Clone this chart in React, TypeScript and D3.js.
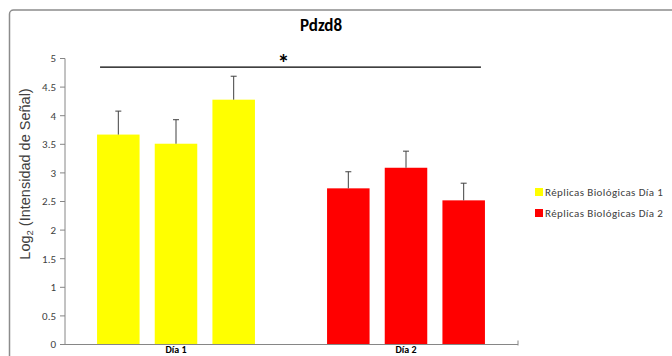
import * as d3 from "d3";

const categories = ["Día 1", "Día 2"];
const replicates = ["r1", "r2", "r3"];
const seriesNames = ["Réplicas Biológicas Día 1", "Réplicas Biológicas Día 2"];
const seriesColors = ["#ffff00", "#ff0000"];
const means = [
  [3.67, 3.51, 4.28],
  [2.73, 3.09, 2.52],
];
const errors = [
  [0.41, 0.42, 0.41],
  [0.29, 0.29, 0.3],
];
const yTicks = [0, 0.5, 1, 1.5, 2, 2.5, 3, 3.5, 4, 4.5, 5];

const W = 672;
const H = 356;
const plot = { left: 65, right: 518, top: 58.5, bottom: 344.5 };
const font = "Carlito, Lato, 'Open Sans', sans-serif";

export default function App() {
  const y = d3.scaleLinear().domain([0, 5]).range([plot.bottom, plot.top]);
  const x0 = d3.scaleBand().domain(categories).range([61, 521]);
  const x1 = d3
    .scaleBand()
    .domain(replicates)
    .range([0, x0.bandwidth()])
    .paddingInner(0.263)
    .paddingOuter(0.625);

  // significance bar spans first bar of day 1 to last bar of day 2
  const sigX1 = x0(categories[0])! + x1(replicates[0])! + 3;
  const sigX2 = x0(categories[1])! + x1(replicates[2])! + x1.bandwidth() - 4;
  const sigY = y(4.85);

  return (
    <svg
      width={W}
      height={H}
      style={{ position: "absolute", left: 0, top: 0, background: "#fff" }}
    >
      <rect
        x={9.5}
        y={10}
        width={720}
        height={400}
        rx={4}
        fill="#fff"
        stroke="#8c8c8c"
        strokeWidth={1.5}
      />
      <text
        x={321}
        y={31}
        textAnchor="middle"
        fontFamily={font}
        fontWeight="bold"
        fontSize={17}
        fill="#000"
      >
        Pdzd8
      </text>

      {/* y axis */}
      <line x1={plot.left} x2={plot.left} y1={y(5)} y2={y(0)} stroke="#868686" />
      {yTicks.map((t) => (
        <g key={t}>
          <line x1={plot.left - 5} x2={plot.left} y1={y(t)} y2={y(t)} stroke="#868686" />
          <text
            x={56}
            y={y(t)}
            dy="0.35em"
            textAnchor="end"
            fontFamily={font}
            fontSize={11}
            fill="#404040"
          >
            {t}
          </text>
        </g>
      ))}
      <text
        transform={`translate(30, ${174}) rotate(-90)`}
        textAnchor="middle"
        fontFamily="'Liberation Sans', Arial, sans-serif"
        fontSize={14.5}
        fill="#404040"
      >
        Log
        <tspan fontSize={9.5} dy={3}>2</tspan>
        <tspan dy={-3}> (Intensidad de Señal)</tspan>
      </text>

      {/* bars */}
      {categories.map((c, ci) => (
        <g key={c}>
          {replicates.map((r, ri) => {
            const bx = x0(c)! + x1(r)!;
            const cx = bx + x1.bandwidth() / 2;
            const v = means[ci][ri];
            const e = errors[ci][ri];
            return (
              <g key={r}>
                <rect
                  x={bx}
                  y={y(v)}
                  width={x1.bandwidth()}
                  height={y(0) - y(v)}
                  fill={seriesColors[ci]}
                />
                <line x1={cx} x2={cx} y1={y(v)} y2={y(v + e)} stroke="#404040" strokeWidth={1} />
                <line
                  x1={cx - 3}
                  x2={cx + 3}
                  y1={y(v + e)}
                  y2={y(v + e)}
                  stroke="#404040"
                  strokeWidth={1}
                />
              </g>
            );
          })}
          <text
            x={x0(c)! + x0.bandwidth() / 2}
            y={353}
            textAnchor="middle"
            fontFamily={font}
            fontWeight="bold"
            fontSize={10}
            fill="#000"
          >
            {c}
          </text>
        </g>
      ))}

      {/* x axis */}
      <line x1={plot.left} x2={plot.right} y1={y(0)} y2={y(0)} stroke="#868686" />
      <line x1={plot.right} x2={plot.right} y1={y(0) - 4} y2={y(0) + 1} stroke="#868686" />

      {/* significance */}
      <line x1={sigX1} x2={sigX2} y1={sigY} y2={sigY} stroke="#000" strokeWidth={1.2} />
      <text
        x={(sigX1 + sigX2) / 2 - 7}
        y={sigY + 4}
        textAnchor="middle"
        fontFamily={font}
        fontWeight="bold"
        fontSize={24}
        fill="#000"
      >
        *
      </text>

      {/* legend */}
      {seriesNames.map((n, i) => (
        <g key={n} transform={`translate(535, ${192 + i * 21})`}>
          <rect x={0} y={-4} width={8} height={8} fill={seriesColors[i]} />
          <text
            x={10}
            y={0}
            dy="0.35em"
            fontFamily={font}
            fontSize={11}
            letterSpacing={0.4}
            fill="#404040"
          >
            {n}
          </text>
        </g>
      ))}
    </svg>
  );
}
